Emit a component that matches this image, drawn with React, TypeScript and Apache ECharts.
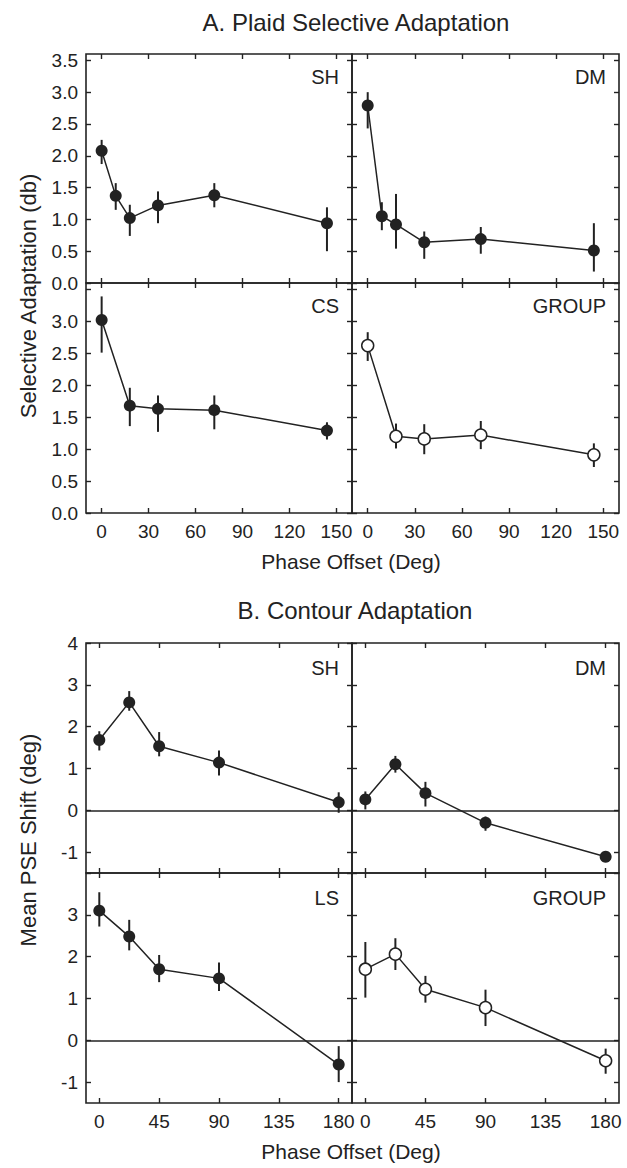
import React, { useEffect, useRef } from "react";
import * as echarts from "echarts";

// ---------- DATA ----------
const xA = [0, 9, 18, 36, 72, 144];
const xA5 = [0, 18, 36, 72, 144];
const xB = [0, 22.5, 45, 90, 180];

const shA = [2.08, 1.37, 1.02, 1.22, 1.38, 0.94];
const shALo = [1.87, 1.15, 0.74, 0.94, 1.19, 0.5];
const shAHi = [2.25, 1.57, 1.23, 1.44, 1.57, 1.19];

const dmA = [2.79, 1.05, 0.92, 0.64, 0.69, 0.51];
const dmALo = [2.43, 0.83, 0.54, 0.38, 0.46, 0.18];
const dmAHi = [3.0, 1.27, 1.4, 0.81, 0.88, 0.94];

const csA = [3.02, 1.68, 1.63, 1.61, 1.29];
const csALo = [2.51, 1.36, 1.27, 1.31, 1.15];
const csAHi = [3.39, 1.96, 1.84, 1.84, 1.42];

const grpA = [2.62, 1.2, 1.16, 1.22, 0.91];
const grpALo = [2.38, 1.01, 0.92, 1.0, 0.72];
const grpAHi = [2.83, 1.4, 1.39, 1.44, 1.09];

const shB = [1.68, 2.58, 1.53, 1.14, 0.19];
const shBLo = [1.43, 2.38, 1.29, 0.83, -0.06];
const shBHi = [1.89, 2.85, 1.87, 1.43, 0.43];

const dmB = [0.26, 1.1, 0.41, -0.3, -1.11];
const dmBLo = [0.02, 0.9, 0.09, -0.49, -1.17];
const dmBHi = [0.45, 1.3, 0.68, -0.15, -1.05];

const lsB = [3.1, 2.48, 1.7, 1.48, -0.58];
const lsBLo = [2.72, 2.15, 1.39, 1.18, -1.0];
const lsBHi = [3.54, 2.88, 2.04, 1.86, -0.14];

const grpB = [1.7, 2.06, 1.22, 0.78, -0.49];
const grpBLo = [1.02, 1.68, 0.9, 0.34, -0.8];
const grpBHi = [2.35, 2.44, 1.54, 1.21, -0.2];

const xTicksA = [0, 30, 60, 90, 120, 150];
const xTicksB = [0, 45, 90, 135, 180];
const yTicksA = [0, 0.5, 1, 1.5, 2, 2.5, 3, 3.5];
const yLabelsATop = [0, 0.5, 1, 1.5, 2, 2.5, 3, 3.5];
const yLabelsABottom = [0, 0.5, 1, 1.5, 2, 2.5, 3];
const yTicksB = [-1, 0, 1, 2, 3, 4];
const yLabelsBTop = [-1, 0, 1, 2, 3, 4];
const yLabelsBBottom = [-1, 0, 1, 2, 3];

const panelNames = ["SH", "DM", "CS", "GROUP", "SH", "DM", "LS", "GROUP"];

// ---------- CHART ----------
const FONT = "'Liberation Sans', Arial, Helvetica, sans-serif";
const INK = "#222";

type Panel = {
  name: string;
  x: number[];
  y: number[];
  lo: number[];
  hi: number[];
  open: boolean;
  part: "A" | "B";
  row: number;
  col: number;
};

const panels: Panel[] = [
  { name: panelNames[0], x: xA, y: shA, lo: shALo, hi: shAHi, open: false, part: "A", row: 0, col: 0 },
  { name: panelNames[1], x: xA, y: dmA, lo: dmALo, hi: dmAHi, open: false, part: "A", row: 0, col: 1 },
  { name: panelNames[2], x: xA5, y: csA, lo: csALo, hi: csAHi, open: false, part: "A", row: 1, col: 0 },
  { name: panelNames[3], x: xA5, y: grpA, lo: grpALo, hi: grpAHi, open: true, part: "A", row: 1, col: 1 },
  { name: panelNames[4], x: xB, y: shB, lo: shBLo, hi: shBHi, open: false, part: "B", row: 0, col: 0 },
  { name: panelNames[5], x: xB, y: dmB, lo: dmBLo, hi: dmBHi, open: false, part: "B", row: 0, col: 1 },
  { name: panelNames[6], x: xB, y: lsB, lo: lsBLo, hi: lsBHi, open: false, part: "B", row: 1, col: 0 },
  { name: panelNames[7], x: xB, y: grpB, lo: grpBLo, hi: grpBHi, open: true, part: "B", row: 1, col: 1 },
];

const colX = [86, 352, 619];
const rowYA = [54, 283, 513];
const rowYB = [643, 873, 1103];

function buildOption() {
  const grids: any[] = [];
  const xAxes: any[] = [];
  const yAxes: any[] = [];
  const series: any[] = [];
  const graphics: any[] = [];

  panels.forEach((p, i) => {
    const rows = p.part === "A" ? rowYA : rowYB;
    const left = colX[p.col];
    const right = colX[p.col + 1];
    const top = rows[p.row];
    const bottom = rows[p.row + 1];
    grids.push({
      left,
      top,
      width: right - left,
      height: bottom - top,
      show: true,
      borderColor: INK,
      borderWidth: 1.6,
      backgroundColor: "transparent",
    });
    const xmin = -10;
    const xmax = p.part === "A" ? 160 : 190;
    const xt = p.part === "A" ? xTicksA : xTicksB;
    const ymin = p.part === "A" ? 0 : -1.5;
    const ymax = p.part === "A" ? 3.6 : 4;
    const yt = p.part === "A" ? yTicksA : yTicksB;
    const yl =
      p.part === "A"
        ? p.row === 0
          ? yLabelsATop
          : yLabelsABottom
        : p.row === 0
        ? yLabelsBTop
        : yLabelsBBottom;
    const showXLab = p.row === 1;
    const showYLab = p.col === 0;
    const tick = { show: true, inside: true, length: 5, lineStyle: { color: INK, width: 1.4 } };
    const line = { show: false, onZero: false };
    const label = {
      color: INK,
      fontSize: 19,
      fontFamily: FONT,
    };
    // bottom x
    xAxes.push({
      gridIndex: i,
      type: "value",
      min: xmin,
      max: xmax,
      position: "bottom",
      axisLine: line,
      splitLine: { show: false },
      axisTick: { ...tick, customValues: xt },
      axisLabel: { ...label, show: showXLab, customValues: xt, margin: 9 },
    });
    // top x
    xAxes.push({
      gridIndex: i,
      type: "value",
      min: xmin,
      max: xmax,
      position: "top",
      axisLine: line,
      splitLine: { show: false },
      axisTick: { ...tick, customValues: xt },
      axisLabel: { show: false },
    });
    yAxes.push({
      gridIndex: i,
      type: "value",
      min: ymin,
      max: ymax,
      position: "left",
      axisLine: line,
      splitLine: { show: false },
      axisTick: { ...tick, customValues: yt },
      axisLabel: {
        ...label,
        show: showYLab,
        customValues: yl,
        margin: 8,
        formatter: (v: number) => (p.part === "A" ? v.toFixed(1) : String(v)),
      },
    });
    yAxes.push({
      gridIndex: i,
      type: "value",
      min: ymin,
      max: ymax,
      position: "right",
      axisLine: line,
      splitLine: { show: false },
      axisTick: { ...tick, customValues: yt },
      axisLabel: { show: false },
    });

    const xi = i * 2;
    const yi = i * 2;
    const errData = p.x.map((xv, k) => [xv, p.lo[k], p.hi[k]]);
    series.push({
      type: "custom",
      xAxisIndex: xi,
      yAxisIndex: yi,
      z: 2,
      silent: true,
      encode: { x: 0, y: [1, 2] },
      data: errData,
      renderItem: (params: any, api: any) => {
        const xv = api.value(0);
        const a = api.coord([xv, api.value(1)]);
        const b = api.coord([xv, api.value(2)]);
        return {
          type: "line",
          shape: { x1: a[0], y1: a[1], x2: b[0], y2: b[1] },
          style: { stroke: INK, lineWidth: 2 },
        };
      },
    });
    series.push({
      type: "line",
      xAxisIndex: xi,
      yAxisIndex: yi,
      z: 3,
      data: p.x.map((xv, k) => [xv, p.y[k]]),
      symbol: "circle",
      symbolSize: 12,
      showSymbol: true,
      lineStyle: { color: INK, width: 1.5 },
      itemStyle: p.open
        ? { color: "#fff", borderColor: INK, borderWidth: 1.5 }
        : { color: INK, borderColor: INK, borderWidth: 0 },
      markLine:
        p.part === "B"
          ? {
              silent: true,
              symbol: "none",
              label: { show: false },
              lineStyle: { color: INK, width: 1.6, type: "solid" },
              data: [{ yAxis: 0 }],
            }
          : undefined,
    });

    graphics.push({
      type: "text",
      x: right - 13,
      y: top + (p.part === "A" ? 23 : 25),
      style: {
        text: p.name,
        fill: INK,
        font: `20px ${FONT}`,
        textAlign: "right",
        textVerticalAlign: "middle",
      },
    });
  });

  graphics.push(
    {
      type: "text",
      x: 356,
      y: 22,
      style: {
        text: "A. Plaid Selective Adaptation",
        fill: INK,
        font: `24px ${FONT}`,
        textAlign: "center",
        textVerticalAlign: "middle",
      },
    },
    {
      type: "text",
      x: 355,
      y: 610,
      style: {
        text: "B. Contour Adaptation",
        fill: INK,
        font: `24px ${FONT}`,
        textAlign: "center",
        textVerticalAlign: "middle",
      },
    },
    {
      type: "text",
      x: 351,
      y: 561,
      style: {
        text: "Phase Offset (Deg)",
        fill: INK,
        font: `21px ${FONT}`,
        textAlign: "center",
        textVerticalAlign: "middle",
      },
    },
    {
      type: "text",
      x: 351,
      y: 1151,
      style: {
        text: "Phase Offset (Deg)",
        fill: INK,
        font: `21px ${FONT}`,
        textAlign: "center",
        textVerticalAlign: "middle",
      },
    },
    {
      type: "text",
      x: 28,
      y: 296,
      rotation: Math.PI / 2,
      style: {
        text: "Selective Adaptation (db)",
        fill: INK,
        font: `22px ${FONT}`,
        textAlign: "center",
        textVerticalAlign: "middle",
      },
    },
    {
      type: "text",
      x: 28,
      y: 840,
      rotation: Math.PI / 2,
      style: {
        text: "Mean PSE Shift (deg)",
        fill: INK,
        font: `22px ${FONT}`,
        textAlign: "center",
        textVerticalAlign: "middle",
      },
    }
  );

  return {
    animation: false,
    backgroundColor: "#fff",
    textStyle: { fontFamily: FONT },
    grid: grids,
    xAxis: xAxes,
    yAxis: yAxes,
    series,
    graphic: graphics,
  };
}

export default function App() {
  const ref = useRef<HTMLDivElement>(null);
  useEffect(() => {
    if (!ref.current) return;
    const chart = echarts.init(ref.current, undefined, { renderer: "svg" });
    chart.setOption(buildOption() as any);
    return () => chart.dispose();
  }, []);
  return (
    <div
      ref={ref}
      style={{ position: "fixed", left: 0, top: 0, width: 627, height: 1168, background: "#fff" }}
    />
  );
}
